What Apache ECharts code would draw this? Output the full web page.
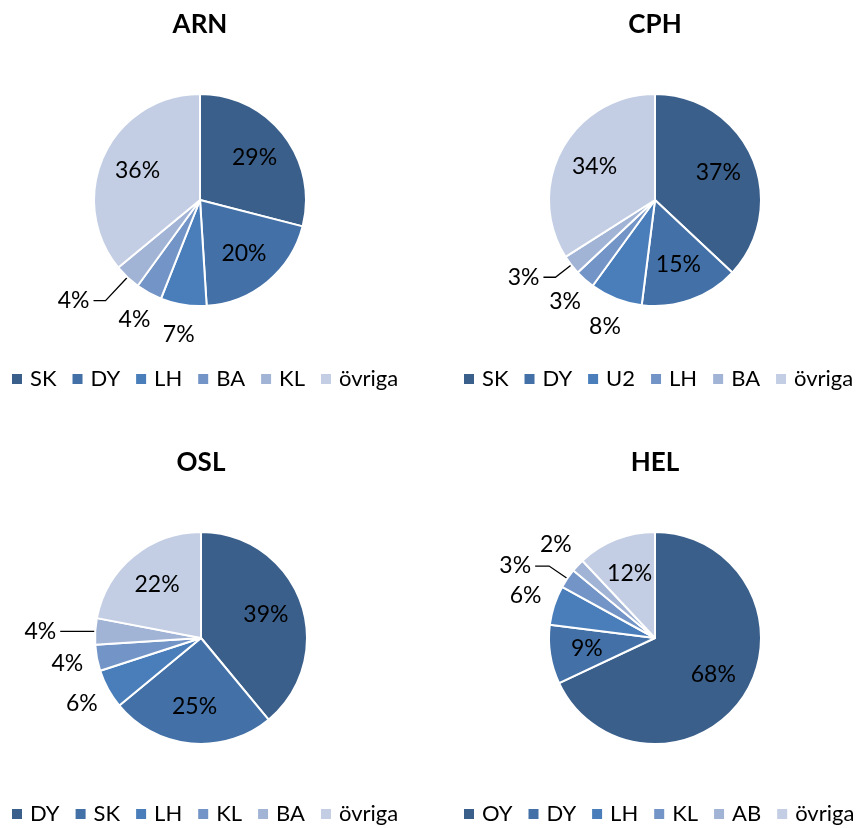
<!DOCTYPE html>
<html>
<head>
<meta charset="utf-8">
<script src="https://cdn.jsdelivr.net/npm/echarts@6/dist/echarts.min.js"></script>
<style>html,body{margin:0;padding:0;background:#fff}#c{width:858px;height:828px}</style>
</head>
<body>
<div id="c"></div>
<script>
// ---- data ----
const arnCats = ['SK', 'DY', 'LH', 'BA', 'KL', 'övriga'];
const arnVals = [29, 20, 7, 4, 4, 36];
const cphCats = ['SK', 'DY', 'U2', 'LH', 'BA', 'övriga'];
const cphVals = [37, 15, 8, 3, 3, 34];
const oslCats = ['DY', 'SK', 'LH', 'KL', 'BA', 'övriga'];
const oslVals = [39, 25, 6, 4, 4, 22];
const helCats = ['OY', 'DY', 'LH', 'KL', 'AB', 'övriga'];
const helVals = [68, 9, 6, 3, 2, 12];
// label placement per slice: 'in' inside, 'out' outside w/o line, 'line' with leader line
const arnPlace = ['in', 'in', 'out', 'out', 'line', 'in'];
const cphPlace = ['in', 'in', 'out', 'out', 'line', 'in'];
const oslPlace = ['in', 'in', 'out', 'out', 'line', 'in'];
const helPlace = ['in', 'in', 'out', 'line', 'out', 'in'];

const palette = ['#3A5F8B', '#4270A7', '#4A7EBB', '#7394C6', '#A2B4D6', '#C3CEE4'];
const FONT = 'Lato';

const charts = [
  {id: 'ARN', cats: arnCats, vals: arnVals, place: arnPlace, cx: 200, cy: 200, legendLeft: 10, legendTop: 368,
   line: {len: 32, len2: 12}},
  {id: 'CPH', cats: cphCats, vals: cphVals, place: cphPlace, cx: 655, cy: 200, legendLeft: 462, legendTop: 368,
   line: {len: 20, len2: 12}},
  {id: 'OSL', cats: oslCats, vals: oslVals, place: oslPlace, cx: 201, cy: 638, legendLeft: 10, legendTop: 803,
   line: {len: 1, len2: 34}},
  {id: 'HEL', cats: helCats, vals: helVals, place: helPlace, cx: 655, cy: 638, legendLeft: 462, legendTop: 803,
   line: {len: 22, len2: 14}}
];

const R = 106;
const titles = [], legends = [], series = [];
charts.forEach(function (c) {
  titles.push({
    text: c.id, left: c.cx, top: c.cy - 175, textAlign: 'center', textVerticalAlign: 'middle', padding: 0,
    textStyle: {fontFamily: FONT, fontWeight: 'bold', fontSize: 26, color: '#000'}
  });
  legends.push({
    data: c.cats.map(function (n) { return c.id + '|' + n; }),
    formatter: function (n) { return n.split('|')[1]; },
    left: c.legendLeft, top: c.legendTop, width: 440, padding: 0, orient: 'horizontal',
    icon: 'rect', itemWidth: 12, itemHeight: 12, itemGap: 14, selectedMode: false,
    textStyle: {fontFamily: FONT, fontSize: 22, color: '#000', padding: [0, 0, 0, 2]}
  });
  // main pie (with leader-line labels only)
  series.push({
    type: 'pie', name: c.id, center: [c.cx, c.cy], radius: [0, R], startAngle: 90, clockwise: true,
    avoidLabelOverlap: false, animation: false,
    emphasis: {disabled: true},
    itemStyle: {borderColor: '#fff', borderWidth: 2},
    labelLine: {show: true, length: c.line.len, length2: c.line.len2, lineStyle: {color: '#000', width: 1.3}},
    label: {position: 'outside', distanceToLabelLine: 4, fontFamily: FONT, fontSize: 23, color: '#000',
            formatter: function (p) { return p.value + '%'; }},
    data: c.vals.map(function (v, i) {
      const show = c.place[i] === 'line';
      return {name: c.id + '|' + c.cats[i], value: v, itemStyle: {color: palette[i]},
              label: {show: show}, labelLine: {show: show}};
    })
  });
  // overlay for inside labels
  series.push({
    type: 'pie', center: [c.cx, c.cy], radius: [0, 132], startAngle: 90, clockwise: true, silent: true,
    animation: false, avoidLabelOverlap: false, emphasis: {disabled: true},
    itemStyle: {color: 'rgba(0,0,0,0)', borderWidth: 0},
    labelLine: {show: false},
    label: {position: 'inside', fontFamily: FONT, fontSize: 23, color: '#000',
            formatter: function (p) { return p.value + '%'; }},
    data: c.vals.map(function (v, i) {
      return {name: c.id + '#in' + i, value: v, label: {show: c.place[i] === 'in'}};
    })
  });
  // overlay for outside labels without leader lines
  series.push({
    type: 'pie', center: [c.cx, c.cy], radius: [112, 154], startAngle: 90, clockwise: true, silent: true,
    animation: false, avoidLabelOverlap: false, emphasis: {disabled: true},
    itemStyle: {color: 'rgba(0,0,0,0)', borderWidth: 0},
    labelLine: {show: false},
    label: {position: 'inside', fontFamily: FONT, fontSize: 23, color: '#000',
            formatter: function (p) { return p.value + '%'; }},
    data: c.vals.map(function (v, i) {
      return {name: c.id + '#out' + i, value: v, label: {show: c.place[i] === 'out'}};
    })
  });
});

const chart = echarts.init(document.getElementById('c'));
chart.setOption({
  backgroundColor: '#fff',
  animation: false,
  title: titles,
  legend: legends,
  series: series
});
</script>
</body>
</html>
